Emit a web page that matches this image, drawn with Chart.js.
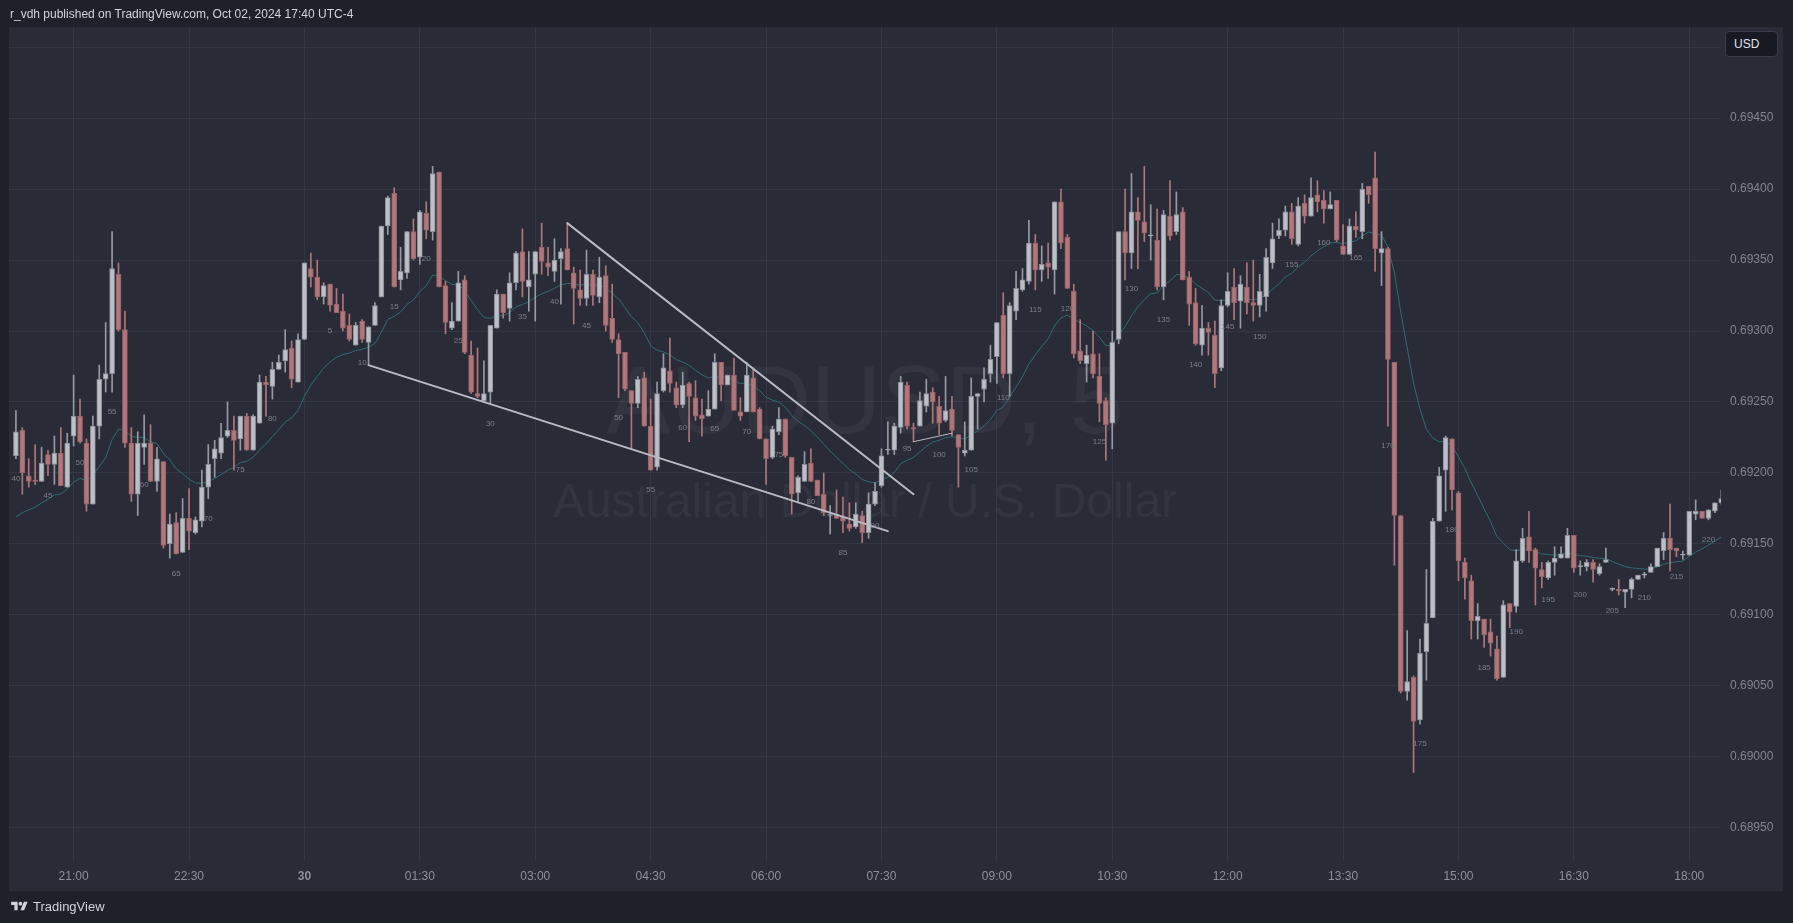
<!DOCTYPE html>
<html>
<head>
<meta charset="utf-8">
<script src="https://cdn.jsdelivr.net/npm/chart.js"></script>
<style>
  html, body { margin: 0; padding: 0; background: #1e212a; }
  #wrap { position: relative; width: 1793px; height: 923px; overflow: hidden; font-family: "Liberation Sans", Arial, sans-serif; }
  #c { position: absolute; left: 0; top: 0; }
  #hdr { position: absolute; left: 10px; top: 7px; font-size: 12px; color: #d1d4dc; white-space: nowrap; }
  #usd { position: absolute; left: 1725px; top: 31px; width: 53px; height: 26px; box-sizing: border-box;
         border: 1px solid #383c48; border-radius: 4px; background: #171a23; color: #e0e3eb;
         font-size: 12px; line-height: 24px; padding-left: 8px; }
  #foot { position: absolute; left: 11px; top: 898px; height: 16px; display: flex; align-items: center;
          color: #d1d4dc; font-size: 13px; }
  #foot svg { margin-right: 5px; }
</style>
</head>
<body>
<div id="wrap">
  <canvas id="c" width="1793" height="923"></canvas>
  <div id="hdr">r_vdh published on TradingView.com, Oct 02, 2024 17:40 UTC-4</div>
  <div id="usd">USD</div>
  <div id="foot">
    <svg width="17" height="13" viewBox="0 0 36 28"><path fill="#d1d4dc" d="M14 22H7V11H0V4h14v18zM28 22h-8l7.5-18h8L28 22z"/><circle fill="#d1d4dc" cx="20" cy="8" r="4"/></svg>
    <span>TradingView</span>
  </div>
</div>
<script>
// AUDUSD 5 minute bars, bar 0 = 00:00 on the 30th
const firstBar = -45;

const opens = [
  0.69212,0.69230,0.69198,0.69195,0.69194,0.69213,0.69206,0.69214,0.69190,0.69226,
  0.69240,0.69221,0.69178,0.69233,0.69266,0.69270,0.69340,0.69301,0.69221,0.69185,
  0.69218,0.69221,0.69194,0.69208,0.69150,0.69165,0.69144,0.69168,0.69158,0.69166,
  0.69190,0.69210,0.69214,0.69226,0.69230,0.69224,0.69240,0.69216,0.69235,0.69264,
  0.69261,0.69273,0.69279,0.69288,0.69264,0.69294,0.69344,0.69338,0.69324,0.69333,
  0.69319,0.69314,0.69304,0.69290,0.69307,0.69292,0.69304,0.69324,0.69374,0.69397,
  0.69336,0.69341,0.69370,0.69352,0.69383,0.69370,0.69412,0.69332,0.69302,0.69307,
  0.69336,0.69283,0.69256,0.69251,0.69257,0.69302,0.69326,0.69316,0.69334,0.69356,
  0.69331,0.69340,0.69359,0.69348,0.69342,0.69351,0.69358,0.69341,0.69329,0.69323,
  0.69340,0.69324,0.69339,0.69309,0.69294,0.69285,0.69258,0.69249,0.69267,0.69233,
  0.69204,0.69258,0.69272,0.69260,0.69248,0.69263,0.69253,0.69241,0.69240,0.69245,
  0.69278,0.69262,0.69269,0.69243,0.69243,0.69267,0.69245,0.69224,0.69211,0.69229,
  0.69238,0.69211,0.69186,0.69194,0.69207,0.69195,0.69185,0.69170,0.69171,0.69169,
  0.69164,0.69162,0.69170,0.69158,0.69178,0.69191,0.69216,0.69216,0.69232,0.69262,
  0.69232,0.69233,0.69247,0.69257,0.69247,0.69237,0.69245,0.69227,0.69214,0.69216,
  0.69254,0.69259,0.69270,0.69282,0.69311,0.69270,0.69314,0.69329,0.69335,0.69362,
  0.69343,0.69348,0.69343,0.69391,0.69366,0.69328,0.69286,0.69277,0.69284,0.69268,
  0.69251,0.69235,0.69294,0.69370,0.69355,0.69384,0.69377,0.69367,0.69364,0.69331,
  0.69381,0.69370,0.69384,0.69338,0.69320,0.69290,0.69302,0.69297,0.69274,0.69318,
  0.69331,0.69321,0.69331,0.69320,0.69318,0.69324,0.69348,0.69367,0.69371,0.69384,
  0.69361,0.69390,0.69381,0.69396,0.69392,0.69386,0.69392,0.69360,0.69354,0.69374,
  0.69370,0.69402,0.69408,0.69355,0.69358,0.69278,0.69170,0.69046,0.69056,0.69026,
  0.69074,0.69098,0.69166,0.69202,0.69224,0.69186,0.69137,0.69124,0.69096,0.69097,
  0.69088,0.69076,0.69056,0.69108,0.69106,0.69138,0.69155,0.69146,0.69132,0.69126,
  0.69137,0.69140,0.69140,0.69156,0.69134,0.69134,0.69137,0.69129,0.69137,0.69118,
  0.69118,0.69116,0.69118,0.69125,0.69128,0.69130,0.69134,0.69145,0.69154,0.69147,
  0.69142,0.69142,0.69171,0.69173,0.69168,0.69173,0.69179
];
const highs = [
  0.69244,0.69232,0.69210,0.69220,0.69218,0.69216,0.69226,0.69232,0.69228,0.69269,
  0.69252,0.69224,0.69240,0.69276,0.69306,0.69370,0.69348,0.69314,0.69232,0.69229,
  0.69241,0.69234,0.69218,0.69208,0.69171,0.69172,0.69182,0.69189,0.69169,0.69202,
  0.69220,0.69223,0.69235,0.69250,0.69240,0.69240,0.69242,0.69241,0.69269,0.69268,
  0.69278,0.69283,0.69301,0.69293,0.69298,0.69348,0.69355,0.69350,0.69334,0.69333,
  0.69330,0.69326,0.69312,0.69306,0.69308,0.69303,0.69320,0.69374,0.69395,0.69401,
  0.69359,0.69370,0.69379,0.69385,0.69391,0.69416,0.69412,0.69335,0.69320,0.69342,
  0.69339,0.69293,0.69288,0.69279,0.69304,0.69329,0.69326,0.69341,0.69356,0.69372,
  0.69356,0.69356,0.69376,0.69359,0.69365,0.69358,0.69376,0.69345,0.69343,0.69357,
  0.69343,0.69352,0.69346,0.69333,0.69298,0.69285,0.69258,0.69268,0.69271,0.69252,
  0.69264,0.69284,0.69295,0.69264,0.69271,0.69264,0.69265,0.69252,0.69258,0.69284,
  0.69278,0.69269,0.69281,0.69253,0.69278,0.69274,0.69246,0.69224,0.69233,0.69246,
  0.69238,0.69211,0.69198,0.69215,0.69217,0.69195,0.69200,0.69177,0.69188,0.69183,
  0.69179,0.69179,0.69173,0.69186,0.69193,0.69217,0.69236,0.69235,0.69268,0.69264,
  0.69235,0.69257,0.69266,0.69260,0.69254,0.69268,0.69254,0.69227,0.69236,0.69267,
  0.69256,0.69274,0.69290,0.69306,0.69327,0.69320,0.69342,0.69344,0.69378,0.69368,
  0.69360,0.69362,0.69391,0.69400,0.69368,0.69333,0.69308,0.69290,0.69300,0.69284,
  0.69253,0.69300,0.69370,0.69400,0.69411,0.69394,0.69416,0.69389,0.69386,0.69385,
  0.69406,0.69398,0.69387,0.69342,0.69330,0.69318,0.69306,0.69307,0.69322,0.69341,
  0.69344,0.69339,0.69348,0.69350,0.69340,0.69358,0.69376,0.69379,0.69388,0.69390,
  0.69394,0.69396,0.69408,0.69406,0.69399,0.69398,0.69392,0.69375,0.69379,0.69384,
  0.69404,0.69402,0.69426,0.69370,0.69359,0.69278,0.69170,0.69089,0.69057,0.69083,
  0.69132,0.69168,0.69204,0.69226,0.69224,0.69187,0.69140,0.69128,0.69108,0.69097,
  0.69097,0.69085,0.69110,0.69108,0.69146,0.69161,0.69173,0.69147,0.69137,0.69138,
  0.69148,0.69148,0.69161,0.69156,0.69138,0.69139,0.69139,0.69136,0.69147,0.69119,
  0.69125,0.69118,0.69126,0.69128,0.69130,0.69136,0.69147,0.69158,0.69178,0.69147,
  0.69145,0.69173,0.69181,0.69173,0.69174,0.69179,0.69188
];
const lows = [
  0.69210,0.69185,0.69190,0.69192,0.69194,0.69198,0.69192,0.69191,0.69190,0.69219,
  0.69221,0.69173,0.69178,0.69224,0.69257,0.69257,0.69300,0.69218,0.69180,0.69170,
  0.69206,0.69194,0.69187,0.69147,0.69140,0.69143,0.69144,0.69146,0.69157,0.69162,
  0.69182,0.69197,0.69210,0.69225,0.69202,0.69216,0.69216,0.69216,0.69235,0.69240,
  0.69252,0.69273,0.69271,0.69260,0.69264,0.69294,0.69331,0.69322,0.69319,0.69314,
  0.69313,0.69300,0.69293,0.69290,0.69292,0.69276,0.69304,0.69324,0.69368,0.69331,
  0.69329,0.69337,0.69350,0.69347,0.69365,0.69364,0.69331,0.69298,0.69301,0.69307,
  0.69284,0.69256,0.69253,0.69250,0.69249,0.69302,0.69309,0.69307,0.69329,0.69324,
  0.69314,0.69307,0.69340,0.69339,0.69335,0.69319,0.69343,0.69305,0.69318,0.69318,
  0.69318,0.69320,0.69300,0.69292,0.69253,0.69258,0.69217,0.69246,0.69233,0.69202,
  0.69202,0.69257,0.69257,0.69246,0.69246,0.69222,0.69237,0.69226,0.69240,0.69245,
  0.69251,0.69262,0.69244,0.69237,0.69243,0.69243,0.69224,0.69192,0.69210,0.69227,
  0.69211,0.69171,0.69180,0.69194,0.69194,0.69184,0.69170,0.69157,0.69168,0.69158,
  0.69159,0.69161,0.69151,0.69154,0.69177,0.69190,0.69213,0.69213,0.69228,0.69231,
  0.69222,0.69233,0.69243,0.69235,0.69227,0.69236,0.69226,0.69190,0.69212,0.69216,
  0.69231,0.69250,0.69264,0.69263,0.69267,0.69254,0.69308,0.69328,0.69333,0.69329,
  0.69335,0.69337,0.69326,0.69358,0.69330,0.69281,0.69277,0.69264,0.69267,0.69236,
  0.69209,0.69217,0.69291,0.69336,0.69344,0.69344,0.69363,0.69350,0.69329,0.69322,
  0.69364,0.69368,0.69336,0.69304,0.69290,0.69283,0.69283,0.69260,0.69272,0.69317,
  0.69308,0.69302,0.69312,0.69307,0.69310,0.69314,0.69344,0.69365,0.69367,0.69361,
  0.69360,0.69376,0.69381,0.69384,0.69376,0.69386,0.69363,0.69354,0.69354,0.69366,
  0.69365,0.69390,0.69342,0.69332,0.69233,0.69135,0.69045,0.69040,0.68989,0.69023,
  0.69054,0.69098,0.69166,0.69173,0.69174,0.69124,0.69111,0.69083,0.69083,0.69077,
  0.69071,0.69054,0.69056,0.69091,0.69102,0.69137,0.69137,0.69107,0.69119,0.69125,
  0.69128,0.69140,0.69140,0.69130,0.69128,0.69131,0.69123,0.69128,0.69137,0.69117,
  0.69114,0.69105,0.69112,0.69125,0.69126,0.69130,0.69134,0.69139,0.69131,0.69141,
  0.69139,0.69142,0.69167,0.69168,0.69167,0.69172,0.69178
];
const closes = [
  0.69229,0.69200,0.69194,0.69194,0.69207,0.69206,0.69214,0.69191,0.69221,0.69240,
  0.69222,0.69178,0.69233,0.69266,0.69270,0.69344,0.69301,0.69221,0.69185,0.69221,
  0.69221,0.69194,0.69210,0.69149,0.69164,0.69143,0.69168,0.69159,0.69167,0.69190,
  0.69206,0.69217,0.69225,0.69230,0.69223,0.69240,0.69216,0.69240,0.69264,0.69262,
  0.69273,0.69278,0.69287,0.69266,0.69294,0.69348,0.69338,0.69324,0.69332,0.69318,
  0.69313,0.69302,0.69294,0.69304,0.69294,0.69303,0.69318,0.69374,0.69394,0.69331,
  0.69342,0.69370,0.69351,0.69384,0.69371,0.69411,0.69331,0.69306,0.69307,0.69334,
  0.69285,0.69257,0.69254,0.69256,0.69304,0.69326,0.69313,0.69334,0.69355,0.69335,
  0.69336,0.69356,0.69349,0.69345,0.69350,0.69356,0.69343,0.69330,0.69323,0.69340,
  0.69325,0.69338,0.69304,0.69294,0.69284,0.69259,0.69249,0.69266,0.69233,0.69202,
  0.69256,0.69274,0.69263,0.69248,0.69262,0.69254,0.69240,0.69238,0.69245,0.69278,
  0.69262,0.69269,0.69244,0.69240,0.69269,0.69243,0.69224,0.69210,0.69231,0.69238,
  0.69212,0.69185,0.69197,0.69206,0.69194,0.69184,0.69172,0.69170,0.69168,0.69166,
  0.69161,0.69171,0.69158,0.69178,0.69187,0.69212,0.69216,0.69233,0.69264,0.69233,
  0.69231,0.69251,0.69256,0.69250,0.69235,0.69244,0.69230,0.69218,0.69216,0.69254,
  0.69256,0.69266,0.69280,0.69306,0.69270,0.69318,0.69330,0.69336,0.69362,0.69343,
  0.69347,0.69345,0.69391,0.69362,0.69330,0.69284,0.69279,0.69283,0.69270,0.69249,
  0.69234,0.69292,0.69370,0.69355,0.69384,0.69378,0.69369,0.69367,0.69331,0.69382,
  0.69367,0.69382,0.69336,0.69319,0.69291,0.69302,0.69299,0.69270,0.69318,0.69328,
  0.69320,0.69333,0.69320,0.69318,0.69328,0.69352,0.69365,0.69371,0.69384,0.69365,
  0.69388,0.69381,0.69394,0.69391,0.69386,0.69389,0.69364,0.69354,0.69374,0.69371,
  0.69400,0.69396,0.69358,0.69358,0.69280,0.69170,0.69046,0.69053,0.69025,0.69073,
  0.69094,0.69166,0.69198,0.69225,0.69188,0.69138,0.69126,0.69096,0.69099,0.69086,
  0.69080,0.69055,0.69107,0.69102,0.69138,0.69154,0.69145,0.69133,0.69127,0.69137,
  0.69140,0.69143,0.69156,0.69133,0.69134,0.69137,0.69132,0.69134,0.69139,0.69118,
  0.69117,0.69118,0.69125,0.69128,0.69128,0.69134,0.69147,0.69154,0.69146,0.69145,
  0.69142,0.69173,0.69173,0.69168,0.69174,0.69179,0.69182
];

const timeTickBars = [-36, -18, 0, 18, 36, 54, 72, 90, 108, 126, 144, 162, 180, 198, 216];
const timeTickLabels = ['21:00', '22:30', '30', '01:30', '03:00', '04:30', '06:00', '07:30',
                        '09:00', '10:30', '12:00', '13:30', '15:00', '16:30', '18:00'];

// drawn trend lines: [bar, price] end points
const lowerTrend = [[10, 0.69276], [91, 0.69159]];
const upperTrend = [[41, 0.69376], [95, 0.69185]];
const smallTrend = [[95, 0.69222], [101, 0.69228]];

// moving average settings (EMA of closes, seeded with the value seen at the left edge)
const maLength = 20;
const maSeed = 0.69169;

// bar counter labels: new session starts at bar 0, previous session count at bar -1 is 84
const prevSessionCount = 85;

const barIndex = opens.map((_, k) => firstBar + k);
const alpha = 2 / (maLength + 1);
const maValues = [];
closes.forEach((c, k) => {
  const prev = k === 0 ? maSeed : maValues[k - 1];
  maValues.push(k === 0 ? maSeed : prev + alpha * (c - prev));
});

const FONT = '"Liberation Sans", Arial, sans-serif';
const gridColor = '#343844';
const axisText = '#81848e';
const upFill = '#bcbfc6', upLine = '#8b8e97';
const downFill = '#b0787c', downLine = '#986266';
const isUp = k => closes[k] >= opens[k];
const pts = arr => arr.map(p => ({ x: p[0], y: p[1] }));

const background = {
  id: 'background',
  beforeDraw(chart) {
    const ctx = chart.ctx;
    ctx.save();
    ctx.fillStyle = '#1e212a';
    ctx.fillRect(0, 0, chart.width, chart.height);
    ctx.fillStyle = '#292c37';
    ctx.fillRect(9, 27, 1774, 864);
    ctx.restore();
  }
};

const watermark = {
  id: 'watermark',
  beforeDatasetsDraw(chart) {
    const { ctx, chartArea } = chart;
    const cx = (chartArea.left + chartArea.right) / 2;
    ctx.save();
    ctx.fillStyle = 'rgba(255,255,255,0.045)';
    ctx.textAlign = 'center';
    ctx.textBaseline = 'alphabetic';
    ctx.font = '97px ' + FONT;
    ctx.fillText('AUDUSD, 5', cx, 433);
    ctx.font = '48px ' + FONT;
    ctx.fillText('Australian Dollar / U.S. Dollar', cx, 517);
    ctx.restore();
  }
};

const countLabels = {
  id: 'countLabels',
  afterDatasetsDraw(chart) {
    const { ctx, chartArea, scales: { x, y } } = chart;
    ctx.save();
    ctx.beginPath();
    ctx.rect(chartArea.left, chartArea.top, chartArea.width, chartArea.height);
    ctx.clip();
    ctx.font = '8px ' + FONT;
    ctx.fillStyle = '#7b7e88';
    ctx.textAlign = 'center';
    ctx.textBaseline = 'middle';
    barIndex.forEach((i, k) => {
      const n = i >= 0 ? i + 1 : i + prevSessionCount;
      if (n % 5 === 0) ctx.fillText(String(n), x.getPixelForValue(i), y.getPixelForValue(lows[k]) + 20);
    });
    ctx.restore();
  }
};

const trendStyle = { type: 'line', borderColor: '#b9bbc2', borderWidth: 2, pointRadius: 0, borderCapStyle: 'round', order: 0 };

new Chart(document.getElementById('c'), {
  type: 'bar',
  data: {
    datasets: [
      Object.assign({ label: 'lower', data: pts(lowerTrend) }, trendStyle),
      Object.assign({ label: 'upper', data: pts(upperTrend) }, trendStyle),
      Object.assign({ label: 'small', data: pts(smallTrend) }, trendStyle, { borderWidth: 1 }),
      {
        label: 'body',
        data: barIndex.map((x, k) => ({ x: x, y: [opens[k], closes[k]] })),
        barThickness: 5,
        minBarLength: 1,
        borderWidth: 1,
        borderSkipped: false,
        grouped: false,
        backgroundColor: ctx => isUp(ctx.dataIndex) ? upFill : downFill,
        borderColor: ctx => isUp(ctx.dataIndex) ? upLine : downLine,
        order: 1
      },
      {
        label: 'wick',
        data: barIndex.map((x, k) => ({ x: x, y: [lows[k], highs[k]] })),
        barThickness: 1,
        grouped: false,
        backgroundColor: ctx => isUp(ctx.dataIndex) ? '#969aa3' : '#ad777b',
        order: 2
      },
      {
        type: 'line',
        label: 'EMA 20',
        data: barIndex.map((x, k) => ({ x: x, y: maValues[k] })),
        borderColor: '#2e6b74',
        borderWidth: 1,
        pointRadius: 0,
        order: 3
      }
    ]
  },
  options: {
    responsive: false,
    animation: false,
    devicePixelRatio: 1,
    events: [],
    layout: { padding: { left: 9, top: 27, right: 10, bottom: 32 } },
    plugins: { legend: { display: false }, tooltip: { enabled: false } },
    scales: {
      x: {
        type: 'linear',
        min: -46.08,
        max: 220.95,
        offset: false,
        grid: { color: gridColor, offset: false, drawTicks: false },
        border: { display: false },
        ticks: {
          stepSize: 18,
          includeBounds: false,
          autoSkip: false,
          maxRotation: 0,
          padding: 8,
          color: '#8d909a',
          font: ctx => ({ family: FONT, size: 12, weight: ctx.tick && ctx.tick.value === 0 ? 'bold' : 'normal' }),
          callback: v => {
            const j = timeTickBars.indexOf(v);
            return j < 0 ? '' : timeTickLabels[j];
          }
        },
        afterFit: s => { s.height = 30; }
      },
      y: {
        type: 'linear',
        position: 'right',
        min: 0.689266,
        max: 0.695142,
        grid: { color: gridColor, drawTicks: false },
        border: { display: false },
        ticks: {
          stepSize: 0.0005,
          includeBounds: false,
          padding: 9,
          color: axisText,
          font: { family: FONT, size: 12 },
          callback: v => v > 0.6949 ? '' : v.toFixed(5)
        },
        afterFit: s => { s.width = 62; }
      }
    }
  },
  plugins: [background, watermark, countLabels]
});
</script>
</body>
</html>
